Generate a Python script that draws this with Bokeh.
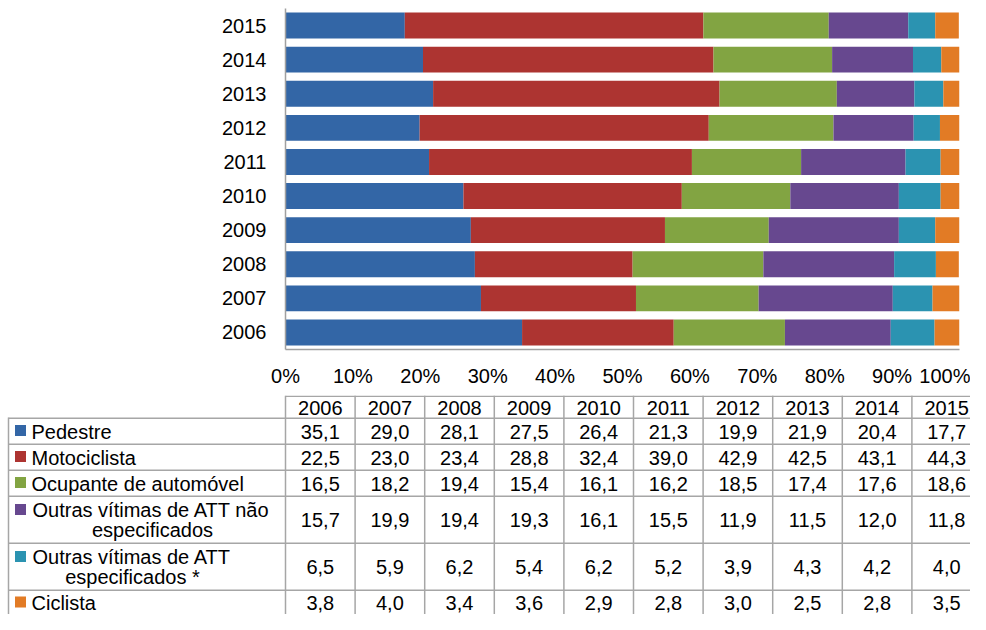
from bokeh.plotting import figure
from bokeh.layouts import column, row
from bokeh.models import ColumnDataSource, Range1d, FixedTicker
from bokeh.embed import file_html
from bokeh.resources import INLINE
from bokeh.core.properties import value

# ---------------- data ----------------
years = [2006, 2007, 2008, 2009, 2010, 2011, 2012, 2013, 2014, 2015]
categories = ["Pedestre", "Motociclista", "Ocupante de automóvel",
              "Outras vítimas de ATT não especificados",
              "Outras vítimas de ATT especificados *", "Ciclista"]
pedestre = [35.1, 29.0, 28.1, 27.5, 26.4, 21.3, 19.9, 21.9, 20.4, 17.7]
motociclista = [22.5, 23.0, 23.4, 28.8, 32.4, 39.0, 42.9, 42.5, 43.1, 44.3]
ocupante = [16.5, 18.2, 19.4, 15.4, 16.1, 16.2, 18.5, 17.4, 17.6, 18.6]
outras_nao = [15.7, 19.9, 19.4, 19.3, 16.1, 15.5, 11.9, 11.5, 12.0, 11.8]
outras_esp = [6.5, 5.9, 6.2, 5.4, 6.2, 5.2, 3.9, 4.3, 4.2, 4.0]
ciclista = [3.8, 4.0, 3.4, 3.6, 2.9, 2.8, 3.0, 2.5, 2.8, 3.5]
x_ticks = [0, 10, 20, 30, 40, 50, 60, 70, 80, 90, 100]

series = [pedestre, motociclista, ocupante, outras_nao, outras_esp, ciclista]
colors = ["#3366A6", "#AD3431", "#82A442", "#67488F", "#2B93B1", "#E27B25"]
FONT = "Liberation Sans"
FS = "20px"

# ---------------- bar chart ----------------
keys = ["s%d" % i for i in range(len(series))]
data = {"year": years}
for k, s in zip(keys, series):
    data[k] = s
src = ColumnDataSource(data)

p = figure(width=970, height=395, output_backend="svg", toolbar_location=None,
           x_range=Range1d(0, 100), y_range=Range1d(2005.5, 2015.5),
           min_border_left=285, min_border_right=11, min_border_top=8,
           min_border_bottom=46)
p.hbar_stack(keys, y="year", height=0.76, color=colors, line_color=None, source=src)
p.outline_line_color = None
p.grid.visible = False

p.xaxis.ticker = FixedTicker(ticks=x_ticks)
p.xaxis.major_label_overrides = {t: "%d%%" % t for t in x_ticks}
p.yaxis.ticker = FixedTicker(ticks=years)
p.yaxis.major_label_overrides = {y: str(y) for y in years}
for ax in (p.xaxis, p.yaxis):
    ax.axis_line_color = "#A0A0A0"
    ax.axis_line_width = 1.5
    ax.major_tick_line_color = None
    ax.minor_tick_line_color = None
    ax.major_label_text_font = FONT
    ax.major_label_text_font_size = FS
    ax.major_label_text_color = "#000000"
p.xaxis.major_label_standoff = 9
p.yaxis.major_label_standoff = 13

# ---------------- data table ----------------
t = figure(width=970, height=219, output_backend="svg", toolbar_location=None,
           x_range=Range1d(0, 970), y_range=Range1d(614, 395),
           x_axis_type=None, y_axis_type=None,
           min_border_left=0, min_border_right=0, min_border_top=0, min_border_bottom=0)
t.outline_line_color = None
t.grid.visible = False

label_left = 8
col_left = 285
col_w = 69.6
row_edges = [395, 417, 443, 469, 495, 542, 589, 614]
grid_col = "#A6A6A6"

n = len(years)
right = col_left + n * col_w
# horizontal lines
hx0, hx1, hy = [], [], []
for i, y in enumerate(row_edges[:-1]):
    hx0.append(col_left if i == 0 else label_left)
    hx1.append(right)
    hy.append(y + 0.8)
t.segment(x0=hx0, y0=hy, x1=hx1, y1=hy, line_color=grid_col, line_width=1.5)
# vertical lines
vx, vy0, vy1 = [label_left], [row_edges[1]], [row_edges[-1]]
for i in range(n + 1):
    vx.append(col_left + i * col_w)
    vy0.append(row_edges[0])
    vy1.append(row_edges[-1])
t.segment(x0=vx, y0=vy0, x1=vx, y1=vy1, line_color=grid_col, line_width=1.5)

# header
hcx = [col_left + (i + 0.5) * col_w for i in range(n)]
hcy = [(row_edges[0] + row_edges[1]) / 2 + 1] * n
t.text(x=hcx, y=hcy, text=[str(y) for y in years], text_align="center",
       text_baseline="middle", text_font=value(FONT), text_font_size=FS, text_color="#000000")

# values
vxs, vys, vts = [], [], []
for r, s in enumerate(series):
    cy = (row_edges[r + 1] + row_edges[r + 2]) / 2 + 1
    for i, v in enumerate(s):
        vxs.append(col_left + (i + 0.5) * col_w)
        vys.append(cy)
        vts.append(("%.1f" % v).replace(".", ","))
t.text(x=vxs, y=vys, text=vts, text_align="center", text_baseline="middle",
       text_font=value(FONT), text_font_size=FS, text_color="#000000")

# legend labels with keys
key_x, key_y = [], []
single_x, single_y, single_t = [], [], []
l1_x, l1_y, l1_t = [], [], []
l2_x, l2_y, l2_t = [], [], []
line2_centers = {3: 152, 4: 132}
for r, name in enumerate(categories):
    top, bot = row_edges[r + 1], row_edges[r + 2]
    if r in line2_centers:
        words = name.split(" ")
        first, second = " ".join(words[:-1]), words[-1]
        if second == "*":
            first, second = " ".join(words[:-2]), " ".join(words[-2:])
        ya = top + (bot - top) * 0.30
        yb = top + (bot - top) * 0.74
        key_x.append(20); key_y.append(ya)
        l1_x.append(32); l1_y.append(ya); l1_t.append(first)
        l2_x.append(line2_centers[r]); l2_y.append(yb); l2_t.append(second)
    else:
        cy = (top + bot) / 2 + 1
        key_x.append(20); key_y.append(cy - 1)
        single_x.append(31); single_y.append(cy); single_t.append(name)
t.rect(x=key_x, y=key_y, width=11, height=11, fill_color=colors, line_color=None)
t.text(x=single_x + l1_x, y=single_y + l1_y, text=single_t + l1_t, text_align="left",
       text_baseline="middle", text_font=value(FONT), text_font_size=FS, text_color="#000000")
t.text(x=l2_x, y=l2_y, text=l2_t, text_align="center", text_baseline="middle",
       text_font=value(FONT), text_font_size=FS, text_color="#000000")

layout = column(row(p), row(t), spacing=0)
open("out.html", "w").write(file_html(layout, INLINE))
